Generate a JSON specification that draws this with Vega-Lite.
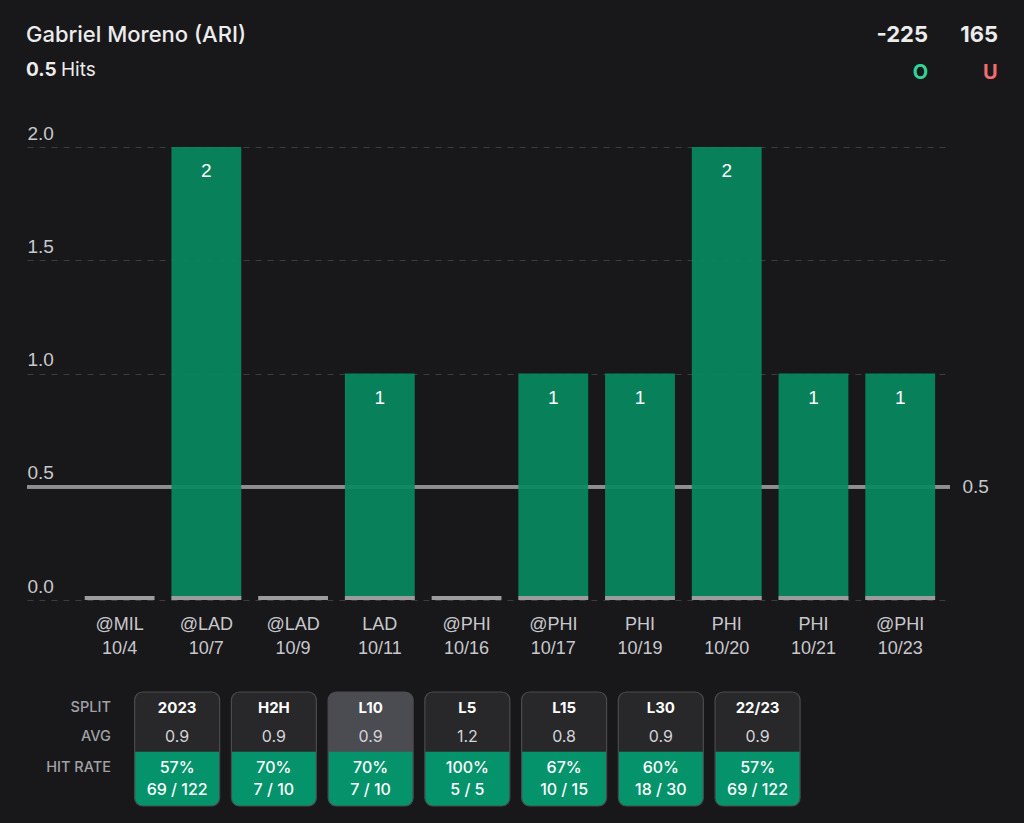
{
  "$schema": "https://vega.github.io/schema/vega-lite/v6.json",
  "background": "#18181b",
  "padding": {"left": 25, "top": 24, "right": 0, "bottom": 0},
  "bounds": "flush",
  "spacing": 74,
  "config": {"view": {"stroke": null}, "font": "Inter"},
  "vconcat": [
    {
      "width": 999,
      "height": 38,
      "layer": [
        {
          "data": {"values": [{"player": "Gabriel Moreno (ARI)", "line": 0.5, "stat": "Hits"}]},
          "mark": {"type": "text", "align": "left", "baseline": "middle", "dx": -1, "fontSize": 22, "fontWeight": 500, "color": "#ececec"},
          "encoding": {
            "x": {"datum": "L", "type": "nominal", "bandPosition": 0, "scale": {"type": "band", "domain": ["L"], "paddingInner": 0, "paddingOuter": 0}, "axis": null},
            "y": {"datum": "line1", "type": "nominal", "scale": {"type": "point", "domain": ["line1", "line2"], "padding": 0}, "axis": null},
            "text": {"field": "player"}
          }
        },
        {
          "data": {"values": [{"player": "Gabriel Moreno (ARI)", "line": 0.5, "stat": "Hits"}]},
          "mark": {"type": "text", "align": "left", "baseline": "middle", "dy": -3, "dx": -1, "fontSize": 19, "fontWeight": 700, "color": "#ececec"},
          "encoding": {
            "x": {"datum": "L", "type": "nominal", "bandPosition": 0, "scale": {"type": "band", "domain": ["L"], "paddingInner": 0, "paddingOuter": 0}, "axis": null},
            "y": {"datum": "line2", "type": "nominal"},
            "text": {"field": "line", "type": "quantitative", "format": ".1f"}
          }
        },
        {
          "data": {"values": [{"player": "Gabriel Moreno (ARI)", "line": 0.5, "stat": "Hits"}]},
          "mark": {"type": "text", "align": "left", "baseline": "middle", "dy": -3, "dx": 34, "fontSize": 19, "fontWeight": 400, "color": "#ececec"},
          "encoding": {
            "x": {"datum": "L", "type": "nominal", "bandPosition": 0, "scale": {"type": "band", "domain": ["L"], "paddingInner": 0, "paddingOuter": 0}, "axis": null},
            "y": {"datum": "line2", "type": "nominal"},
            "text": {"field": "stat"}
          }
        },
        {
          "data": {"values": [{"side": "O", "odds": "-225"}, {"side": "U", "odds": "165"}]},
          "mark": {"type": "text", "align": "right", "baseline": "middle", "fontSize": 22, "fontWeight": 700, "color": "#ececec"},
          "encoding": {
            "x": {"field": "side", "type": "nominal", "bandPosition": 1, "scale": {"type": "band", "domain": ["O", "U"], "range": [881, 971], "paddingInner": 0.714, "paddingOuter": 0}, "axis": null},
            "y": {"datum": "line1", "type": "nominal"},
            "text": {"field": "odds"}
          }
        },
        {
          "data": {"values": [{"side": "O", "odds": "-225"}, {"side": "U", "odds": "165"}]},
          "mark": {"type": "text", "align": "center", "baseline": "middle", "fontSize": 20, "fontWeight": 700},
          "encoding": {
            "x": {"field": "side", "type": "nominal", "bandPosition": 0.62, "scale": {"type": "band", "domain": ["O", "U"], "range": [881, 971], "paddingInner": 0.714, "paddingOuter": 0}, "axis": null},
            "y": {"datum": "line2", "type": "nominal"},
            "text": {"field": "side"},
            "color": {"field": "side", "type": "nominal", "scale": {"domain": ["O", "U"], "range": ["#32d399", "#f26d6d"]}, "legend": null}
          }
        }
      ],
      "resolve": {"scale": {"x": "independent"}}
    },
    {
      "width": 923,
      "height": 453,
      "data": {"values": [
        {"game": "@MIL 10/4", "hits": 0},
        {"game": "@LAD 10/7", "hits": 2},
        {"game": "@LAD 10/9", "hits": 0},
        {"game": "LAD 10/11", "hits": 1},
        {"game": "@PHI 10/16", "hits": 0},
        {"game": "@PHI 10/17", "hits": 1},
        {"game": "PHI 10/19", "hits": 1},
        {"game": "PHI 10/20", "hits": 2},
        {"game": "PHI 10/21", "hits": 1},
        {"game": "@PHI 10/23", "hits": 1}
      ]},
      "layer": [
        {
          "mark": {"type": "rule", "color": "#8e8e93", "strokeWidth": 3},
          "encoding": {
            "y": {"datum": 0.5, "type": "quantitative", "scale": {"domain": [0, 2], "nice": false},
              "axis": {"orient": "right", "values": [0.5], "format": ".1f", "grid": false, "domain": false, "ticks": false, "tickSize": 0, "labelPadding": 12, "labelFontSize": 19, "labelColor": "#c8c8cc", "labelFont": "Liberation Sans", "title": null}}
          }
        },
        {
          "mark": {"type": "bar", "color": "#078a5f", "fillOpacity": 0.93},
          "encoding": {
            "x": {"field": "game", "type": "nominal", "sort": null,
              "scale": {"paddingInner": 0.195, "paddingOuter": 0.4185, "align": 0.795},
              "axis": {"title": null, "labelExpr": "split(datum.label, ' ')", "labelAngle": 0, "labelFontSize": 18, "labelFont": "Liberation Sans", "labelColor": "#c8c8cc", "labelLineHeight": 24, "labelPadding": 15, "ticks": false, "tickSize": 0, "domain": false, "grid": false}},
            "y": {"field": "hits", "type": "quantitative", "scale": {"domain": [0, 2], "nice": false},
              "axis": {"orient": "left", "values": [0, 0.5, 1, 1.5, 2], "format": ".1f", "title": null, "domain": false, "ticks": false, "tickSize": 0, "labelPadding": 0, "labelAlign": "left", "labelBaseline": "alphabetic", "labelOffset": -8, "labelFontSize": 19, "labelFont": "Liberation Sans", "labelColor": "#c8c8cc", "grid": true, "gridColor": "#3c3c40", "gridDash": [6, 6], "gridWidth": 1}}
          }
        },
        {
          "mark": {"type": "bar", "color": "#9b9ba0"},
          "encoding": {
            "x": {"field": "game", "type": "nominal", "sort": null},
            "y": {"datum": 0.018, "type": "quantitative", "scale": {"domain": [0, 2], "nice": false}, "axis": null},
            "y2": {"datum": 0}
          }
        },
        {
          "transform": [{"filter": "datum.hits > 0"}],
          "mark": {"type": "text", "baseline": "top", "dy": 15, "fontSize": 19, "font": "Liberation Sans", "color": "#ffffff"},
          "encoding": {
            "x": {"field": "game", "type": "nominal", "sort": null},
            "y": {"field": "hits", "type": "quantitative", "scale": {"domain": [0, 2], "nice": false}, "axis": null},
            "text": {"field": "hits", "type": "quantitative"}
          }
        }
      ],
      "resolve": {"scale": {"y": "independent"}, "axis": {"y": "independent"}}
    },
    {
      "width": 784,
      "height": 149,
      "data": {"values": [
        {"split": "2023", "avg": 0.9, "rate": 0.57, "record": "69 / 122"},
        {"split": "H2H", "avg": 0.9, "rate": 0.70, "record": "7 / 10"},
        {"split": "L10", "avg": 0.9, "rate": 0.70, "record": "7 / 10"},
        {"split": "L5", "avg": 1.2, "rate": 1.00, "record": "5 / 5"},
        {"split": "L15", "avg": 0.8, "rate": 0.67, "record": "10 / 15"},
        {"split": "L30", "avg": 0.9, "rate": 0.60, "record": "18 / 30"},
        {"split": "22/23", "avg": 0.9, "rate": 0.57, "record": "69 / 122"}
      ]},
      "encoding": {
        "x": {"field": "split", "type": "nominal", "sort": null,
          "scale": {"domain": ["label", "2023", "H2H", "L10", "L5", "L15", "L30", "22/23"], "paddingInner": 0.1216, "paddingOuter": 0.113}, "axis": null}
      },
      "layer": [
        {
          "mark": {"type": "rect", "cornerRadius": 8},
          "encoding": {
            "y": {"datum": 0, "type": "quantitative", "scale": {"domain": [0, 4], "range": [18, 132]}, "axis": null},
            "y2": {"datum": 4},
            "color": {"condition": {"test": "datum.split === 'L10'", "value": "#4b4b52"}, "value": "#28282b"}
          }
        },
        {
          "mark": {"type": "rect", "color": "#04936a", "cornerRadiusBottomLeft": 8, "cornerRadiusBottomRight": 8},
          "encoding": {
            "y": {"datum": 2.095, "type": "quantitative"},
            "y2": {"datum": 4}
          }
        },
        {
          "mark": {"type": "rect", "cornerRadius": 8, "fillOpacity": 0, "stroke": "#4a4a4f", "strokeWidth": 1.2},
          "encoding": {
            "y": {"datum": 0, "type": "quantitative"},
            "y2": {"datum": 4}
          }
        },
        {
          "mark": {"type": "text", "baseline": "middle", "fontSize": 15, "fontWeight": 700, "color": "#ffffff"},
          "encoding": {"y": {"datum": 0.572, "type": "quantitative"}, "text": {"field": "split"}}
        },
        {
          "mark": {"type": "text", "baseline": "middle", "fontSize": 16, "fontWeight": 400, "color": "#d4d4d8"},
          "encoding": {"y": {"datum": 1.568, "type": "quantitative"}, "text": {"field": "avg", "type": "quantitative", "format": ".1f"}}
        },
        {
          "mark": {"type": "text", "baseline": "middle", "fontSize": 16, "fontWeight": 500, "color": "#ffffff"},
          "encoding": {"y": {"datum": 2.656, "type": "quantitative"}, "text": {"field": "rate", "type": "quantitative", "format": ".0%"}}
        },
        {
          "mark": {"type": "text", "baseline": "middle", "fontSize": 16, "fontWeight": 500, "color": "#ffffff"},
          "encoding": {"y": {"datum": 3.439, "type": "quantitative"}, "text": {"field": "record"}}
        },
        {
          "data": {"values": [{"row": "SPLIT"}]},
          "mark": {"type": "text", "align": "right", "baseline": "middle", "dx": -12, "fontSize": 14.5, "fontWeight": 500, "color": "#a1a1a6"},
          "encoding": {"x": {"datum": "label", "type": "nominal", "bandPosition": 1}, "y": {"datum": 0.572, "type": "quantitative"}, "text": {"field": "row"}}
        },
        {
          "data": {"values": [{"row": "AVG"}]},
          "mark": {"type": "text", "align": "right", "baseline": "middle", "dx": -12, "fontSize": 14.5, "fontWeight": 500, "color": "#a1a1a6"},
          "encoding": {"x": {"datum": "label", "type": "nominal", "bandPosition": 1}, "y": {"datum": 1.568, "type": "quantitative"}, "text": {"field": "row"}}
        },
        {
          "data": {"values": [{"row": "HIT RATE"}]},
          "mark": {"type": "text", "align": "right", "baseline": "middle", "dx": -12, "fontSize": 14.5, "fontWeight": 500, "color": "#a1a1a6"},
          "encoding": {"x": {"datum": "label", "type": "nominal", "bandPosition": 1}, "y": {"datum": 2.656, "type": "quantitative"}, "text": {"field": "row"}}
        }
      ]
    }
  ]
}
